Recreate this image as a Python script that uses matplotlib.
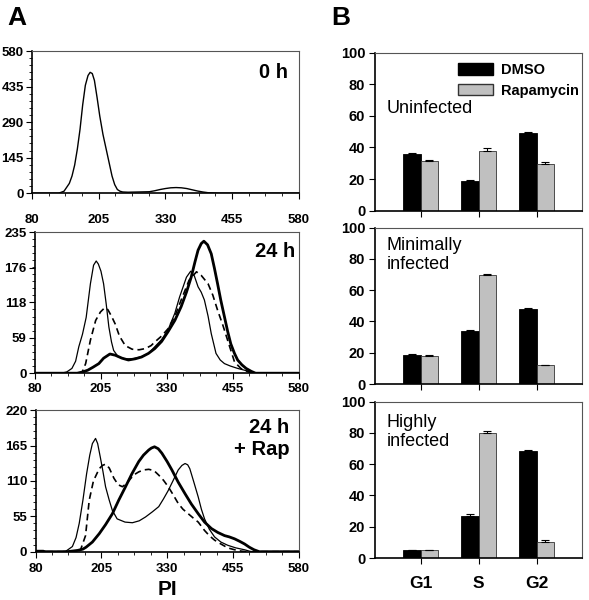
import matplotlib
matplotlib.use("Agg")
import matplotlib.pyplot as plt
from matplotlib.ticker import AutoMinorLocator
from matplotlib.patches import Patch

plt.rcParams["font.family"] = ["Liberation Sans", "DejaVu Sans"]

# ---- panel A : PI histograms ----
pi_ticks = [80, 205, 330, 455, 580]

h0_x = [80, 130, 140, 150, 155, 160, 165, 170, 175, 180, 185, 189, 193, 197, 202, 207, 213, 220,
        225, 230, 235, 240, 245, 250, 260, 280, 300, 310, 320, 330, 340, 350, 360, 370, 380, 390,
        400, 410, 420, 430, 580]
h0_y = [0, 0, 8, 40, 70, 115, 180, 260, 360, 440, 480, 493, 488, 460, 390, 315, 240, 170,
        120, 70, 35, 15, 8, 5, 4, 5, 6, 10, 15, 19, 22, 23, 22, 19, 14, 9,
        5, 2, 1, 0, 0]

h24_thin_x = [80, 130, 140, 150, 157, 163, 170, 177, 185, 191, 196, 200, 205, 210, 215, 220, 225,
              229, 238, 250, 265, 280, 295, 307, 320, 332, 345, 354, 367, 375, 382, 389, 395, 401,
              408, 414, 423, 431, 439, 450, 464, 477, 489, 500, 580]
h24_thin_y = [0, 0, 2, 8, 20, 44, 65, 93, 149, 180, 187, 182, 170, 149, 115, 77, 52,
              38, 27, 24, 24, 27, 33, 44, 56, 72, 100, 127, 160, 170, 162, 144, 135, 122,
              95, 66, 33, 22, 16, 12, 8, 5, 2, 0, 0]

h24_dash_x = [80, 165, 170, 176, 185, 195, 204, 212, 218, 225, 232, 240, 251, 264, 277, 289, 300,
              307, 320, 332, 345, 357, 372, 386, 395, 408, 417, 426, 436, 445, 458, 470, 477, 490, 580]
h24_dash_y = [0, 0, 3, 16, 55, 88, 102, 109, 106, 95, 82, 62, 46, 40, 39, 41, 46,
              52, 62, 74, 95, 122, 155, 169, 163, 149, 130, 105, 80, 55, 19, 8, 5, 0, 0]

h24_thick_x = [80, 160, 170, 180, 190, 201, 210, 222, 232, 245, 257, 270, 282, 295, 307, 320, 332,
               345, 357, 367, 376, 383, 389, 395, 400, 407, 414, 420, 426, 432, 439, 445, 451, 458,
               464, 472, 480, 490, 498, 580]
h24_thick_y = [0, 0, 2, 5, 10, 16, 25, 32, 30, 25, 22, 24, 27, 33, 41, 53, 69,
               88, 111, 135, 160, 185, 205, 216, 220, 214, 199, 175, 149, 122, 94, 70, 49, 33,
               22, 14, 8, 3, 0, 0]

rap_thin_x = [80, 95, 100, 130, 138, 150, 157, 163, 170, 177, 183, 188, 194, 198, 203, 208, 213,
              220, 226, 235, 250, 264, 277, 289, 302, 314, 323, 332, 341, 351, 358, 364, 369, 373,
              380, 389, 395, 401, 410, 420, 432, 445, 460, 477, 490, 580]
rap_thin_y = [2, 2, 0, 0, 1, 8, 22, 44, 80, 121, 150, 168, 176, 168, 147, 125, 101,
              80, 64, 51, 46, 45, 48, 54, 62, 70, 82, 95, 110, 127, 134, 137, 135, 129,
              110, 85, 66, 51, 35, 23, 15, 10, 6, 3, 0, 0]

rap_dash_x = [80, 160, 166, 175, 182, 190, 201, 207, 213, 220, 229, 237, 245, 253, 261, 268, 276,
              285, 295, 305, 314, 323, 332, 341, 351, 360, 370, 380, 389, 401, 410, 420, 432, 445,
              458, 470, 480, 580]
rap_dash_y = [0, 0, 4, 25, 80, 110, 129, 134, 136, 130, 114, 104, 101, 106, 114, 120, 124,
              127, 128, 126, 119, 111, 101, 89, 75, 66, 59, 52, 46, 33, 25, 18, 12, 6,
              3, 1, 0, 0]

rap_thick_x = [80, 140, 150, 160, 170, 176, 188, 201, 213, 226, 238, 251, 263, 276, 285, 295, 300,
               306, 313, 320, 330, 339, 351, 364, 376, 389, 401, 414, 426, 439, 448, 458, 468, 477,
               486, 495, 505, 580]
rap_thick_y = [0, 0, 1, 2, 4, 7, 15, 28, 42, 59, 80, 101, 121, 140, 150, 158, 161,
               163, 160, 153, 140, 127, 108, 90, 74, 59, 46, 36, 30, 25, 23, 20, 16, 12,
               7, 3, 0, 0]

# ---- panel B : cell cycle phases ----
phases = ["G1", "S", "G2"]
unin_dmso = [36, 19, 49]
unin_rap = [31.5, 38, 29.5]
unin_dmso_err = [0.5, 0.3, 0.5]
unin_rap_err = [0.8, 1.5, 1.5]
mini_dmso = [18.5, 34, 48]
mini_rap = [18, 70, 12]
mini_dmso_err = [0.8, 0.4, 0.4]
mini_rap_err = [0.8, 0.4, 0.4]
high_dmso = [5, 27, 68.5]
high_rap = [5, 80, 10.5]
high_dmso_err = [0.2, 1.2, 0.8]
high_rap_err = [0.2, 1.2, 0.8]

fig = plt.figure(figsize=(5.89, 6.0), dpi=100)


def style_frame(ax):
    for s in ["left", "bottom"]:
        ax.spines[s].set_color("black")
        ax.spines[s].set_linewidth(1.2)
    for s in ["top", "right"]:
        ax.spines[s].set_color("#555555")
        ax.spines[s].set_linewidth(0.8)


def hist_axes(rect, ymax, yt, label, lx, ly, xpad):
    ax = fig.add_axes(rect)
    ax.set_xlim(80, 580)
    ax.set_ylim(0, ymax)
    ax.set_xticks(pi_ticks)
    ax.set_yticks(yt)
    ax.xaxis.set_minor_locator(AutoMinorLocator(4))
    ax.yaxis.set_minor_locator(AutoMinorLocator(5))
    ax.tick_params(which="major", direction="out", length=4, width=0.8, labelsize=9.5)
    ax.tick_params(which="minor", direction="out", length=2, width=0.6)
    ax.tick_params(axis="x", pad=xpad)
    ax.tick_params(axis="y", pad=2)
    for t in ax.get_xticklabels() + ax.get_yticklabels():
        t.set_fontweight("bold")
    ax.text(lx, ly, label, transform=ax.transAxes, ha="right", va="center",
            fontsize=14.5, fontweight="bold", linespacing=1.25)
    style_frame(ax)
    return ax


ax1 = hist_axes([0.0543, 0.678, 0.453, 0.237], 580, [0, 145, 290, 435, 580], "0 h", 0.96, 0.85, 11)
ax1.plot(h0_x, h0_y, color="black", lw=1.0)

ax2 = hist_axes([0.0594, 0.378, 0.448, 0.235], 235, [0, 59, 118, 176, 235], "24 h", 0.985, 0.86, 3)
ax2.plot(h24_thin_x, h24_thin_y, color="black", lw=0.9)
ax2.plot(h24_dash_x, h24_dash_y, color="black", lw=1.2, ls=(0, (4, 2.5)))
ax2.plot(h24_thick_x, h24_thick_y, color="black", lw=2.0)

ax3 = hist_axes([0.0603, 0.0805, 0.447, 0.236], 220, [0, 55, 110, 165, 220], "24 h\n+ Rap", 0.965, 0.80, 4)
ax3.plot(rap_thin_x, rap_thin_y, color="black", lw=0.9)
ax3.plot(rap_dash_x, rap_dash_y, color="black", lw=1.2, ls=(0, (4, 2.5)))
ax3.plot(rap_thick_x, rap_thick_y, color="black", lw=2.0)
ax3.set_xlabel("PI", fontsize=15, fontweight="bold", labelpad=4)

# ---- panel B bars ----
def bar_axes(rect, dmso, rap, dmso_err, rap_err, label, ly, last=False):
    ax = fig.add_axes(rect)
    pos = list(range(len(phases)))
    w = 0.3
    ax.bar([p - w / 2 for p in pos], dmso, w, color="black", edgecolor="black", lw=0.6,
           yerr=[[0] * 3, dmso_err], error_kw=dict(ecolor="black", elinewidth=0.8, capsize=3, capthick=0.8),
           label="DMSO")
    ax.bar([p + w / 2 for p in pos], rap, w, color="#c0c0c0", edgecolor="#333333", lw=0.6,
           yerr=[[0] * 3, rap_err], error_kw=dict(ecolor="black", elinewidth=0.8, capsize=3, capthick=0.8),
           label="Rapamycin")
    ax.set_xlim(-0.79, 2.78)
    ax.set_ylim(0, 100)
    ax.set_yticks([0, 20, 40, 60, 80, 100])
    ax.set_xticks(pos)
    ax.tick_params(direction="out", length=4, width=0.8, labelsize=10.5)
    ax.tick_params(axis="y", pad=3)
    if last:
        ax.set_xticklabels(phases, fontsize=12.5, fontweight="bold")
        ax.tick_params(axis="x", pad=9)
    else:
        ax.set_xticklabels([])
    for t in ax.get_yticklabels():
        t.set_fontweight("bold")
    ax.text(0.055, ly, label, transform=ax.transAxes, ha="left", va="top",
            fontsize=13, linespacing=1.15)
    style_frame(ax)
    return ax


bx1 = bar_axes([0.6367, 0.649, 0.351, 0.263], unin_dmso, unin_rap, unin_dmso_err, unin_rap_err,
               "Uninfected", 0.70)
handles = [Patch(facecolor="black", edgecolor="black", label="DMSO"),
           Patch(facecolor="#c0c0c0", edgecolor="#333333", label="Rapamycin")]
bx1.legend(handles=handles, loc="upper right", bbox_to_anchor=(1.03, 0.99), frameon=False,
           prop=dict(size=10.5, weight="bold"), handlelength=2.4, handleheight=0.8,
           handletextpad=0.6, labelspacing=0.45, borderaxespad=0.2)

bx2 = bar_axes([0.6367, 0.360, 0.351, 0.2605], mini_dmso, mini_rap, mini_dmso_err, mini_rap_err,
               "Minimally\ninfected", 0.94)
bx3 = bar_axes([0.6367, 0.070, 0.351, 0.2605], high_dmso, high_rap, high_dmso_err, high_rap_err,
               "Highly\ninfected", 0.92, last=True)

fig.text(0.012, 0.97, "A", fontsize=19, fontweight="bold", va="center", ha="left")
fig.text(0.563, 0.97, "B", fontsize=19, fontweight="bold", va="center", ha="left")

fig.savefig("out.png", dpi=100)
